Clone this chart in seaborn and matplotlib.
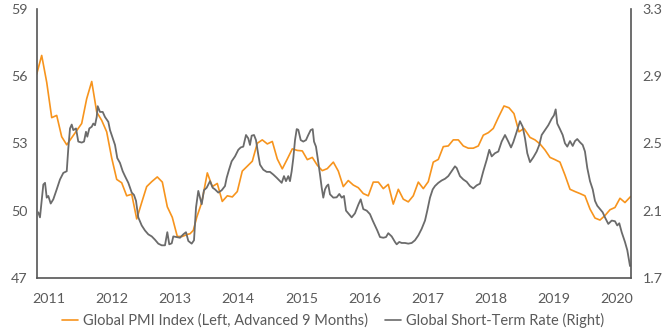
import numpy as np
import pandas as pd
import matplotlib
matplotlib.use("Agg")
import matplotlib.pyplot as plt
import seaborn as sns
from matplotlib.lines import Line2D

# ---------------- data ----------------
pmi_t = [2010.805, 2010.884, 2010.964, 2011.043, 2011.122, 2011.201, 2011.281, 2011.518,
         2011.597, 2011.677, 2011.756, 2011.835, 2011.914, 2011.994, 2012.073, 2012.152,
         2012.231, 2012.311, 2012.390, 2012.469, 2012.548, 2012.628, 2012.716, 2012.796,
         2012.875, 2012.954, 2013.033, 2013.113, 2013.192, 2013.235, 2013.287, 2013.341,
         2013.420, 2013.509, 2013.588, 2013.667, 2013.746, 2013.826, 2013.905, 2013.984,
         2014.063, 2014.143, 2014.222, 2014.301, 2014.380, 2014.460, 2014.539, 2014.618,
         2014.697, 2014.777, 2014.856, 2014.935, 2015.014, 2015.094, 2015.173, 2015.252,
         2015.331, 2015.410, 2015.506, 2015.585, 2015.664, 2015.743, 2015.822, 2015.902,
         2015.981, 2016.060, 2016.139, 2016.219, 2016.298, 2016.377, 2016.456, 2016.536,
         2016.615, 2016.694, 2016.773, 2016.853, 2016.932, 2017.011, 2017.090, 2017.170,
         2017.249, 2017.328, 2017.407, 2017.487, 2017.566, 2017.645, 2017.724, 2017.804,
         2017.883, 2017.962, 2018.041, 2018.120, 2018.211, 2018.290, 2018.369, 2018.448,
         2018.528, 2018.623, 2018.702, 2018.781, 2018.861, 2018.940, 2019.019, 2019.098,
         2019.178, 2019.257, 2019.336, 2019.415, 2019.494, 2019.574, 2019.653, 2019.732,
         2019.811, 2019.891, 2019.970, 2020.049, 2020.128, 2020.219]
pmi_v = [56.08, 56.91, 55.71, 54.14, 54.24, 53.29, 52.93, 53.88,
         54.98, 55.75, 54.39, 54.02, 53.51, 52.34, 51.39, 51.24,
         50.66, 50.73, 49.63, 50.36, 51.07, 51.29, 51.50, 51.27,
         50.17, 49.70, 48.85, 48.85, 48.94, 48.97, 49.12, 49.70,
         50.36, 51.68, 51.07, 51.21, 50.41, 50.66, 50.61, 50.85,
         51.76, 51.98, 52.20, 53.00, 53.15, 52.97, 53.08, 52.30,
         51.86, 52.30, 52.75, 52.68, 52.66, 52.27, 52.37, 52.02,
         51.78, 51.87, 52.16, 51.76, 51.07, 51.34, 51.14, 51.02,
         50.76, 50.66, 51.27, 51.27, 50.98, 51.17, 50.29, 50.95,
         50.51, 50.39, 50.66, 51.27, 50.98, 51.29, 52.16, 52.28,
         52.85, 52.88, 53.15, 53.15, 52.88, 52.78, 52.78, 52.88,
         53.36, 53.47, 53.66, 54.14, 54.66, 54.58, 54.32, 53.51,
         53.66, 53.26, 53.15, 52.97, 52.70, 52.37, 52.27, 52.16,
         51.58, 50.95, 50.85, 50.76, 50.66, 50.07, 49.67, 49.58,
         49.78, 50.04, 50.14, 50.55, 50.36, 50.63]

rate_t = [2010.830, 2010.857, 2010.910, 2010.937, 2010.964, 2010.989, 2011.027, 2011.068,
          2011.122, 2011.174, 2011.227, 2011.281, 2011.306, 2011.333, 2011.360, 2011.385,
          2011.428, 2011.464, 2011.518, 2011.555, 2011.586, 2011.607, 2011.639, 2011.677,
          2011.702, 2011.729, 2011.756, 2011.772, 2011.808, 2011.851, 2011.887, 2011.940,
          2011.967, 2012.010, 2012.046, 2012.082, 2012.125, 2012.168, 2012.204, 2012.257,
          2012.311, 2012.347, 2012.379, 2012.415, 2012.469, 2012.521, 2012.574, 2012.628,
          2012.680, 2012.732, 2012.786, 2012.838, 2012.875, 2012.906, 2012.945, 2012.970,
          2013.024, 2013.076, 2013.128, 2013.171, 2013.208, 2013.261, 2013.298, 2013.330,
          2013.366, 2013.393, 2013.420, 2013.456, 2013.499, 2013.552, 2013.594, 2013.631,
          2013.683, 2013.737, 2013.789, 2013.816, 2013.853, 2013.895, 2013.948, 2014.000,
          2014.038, 2014.079, 2014.122, 2014.158, 2014.185, 2014.212, 2014.249, 2014.280,
          2014.317, 2014.344, 2014.396, 2014.450, 2014.502, 2014.555, 2014.609, 2014.661,
          2014.688, 2014.724, 2014.756, 2014.792, 2014.819, 2014.846, 2014.872, 2014.899,
          2014.926, 2014.951, 2014.989, 2015.030, 2015.073, 2015.109, 2015.147, 2015.179,
          2015.200, 2015.231, 2015.258, 2015.295, 2015.322, 2015.347, 2015.374, 2015.401,
          2015.426, 2015.453, 2015.506, 2015.559, 2015.601, 2015.639, 2015.675, 2015.707,
          2015.743, 2015.797, 2015.849, 2015.902, 2015.940, 2015.981, 2016.035, 2016.087,
          2016.130, 2016.166, 2016.203, 2016.246, 2016.298, 2016.341, 2016.377, 2016.431,
          2016.483, 2016.510, 2016.551, 2016.590, 2016.642, 2016.694, 2016.748, 2016.800,
          2016.853, 2016.906, 2016.959, 2016.995, 2017.038, 2017.081, 2017.117, 2017.170,
          2017.223, 2017.276, 2017.328, 2017.382, 2017.434, 2017.461, 2017.513, 2017.566,
          2017.620, 2017.672, 2017.724, 2017.778, 2017.830, 2017.883, 2017.937, 2017.978,
          2018.016, 2018.068, 2018.121, 2018.174, 2018.227, 2018.279, 2018.322, 2018.358,
          2018.412, 2018.464, 2018.507, 2018.544, 2018.580, 2018.623, 2018.675, 2018.729,
          2018.770, 2018.808, 2018.861, 2018.913, 2018.967, 2019.003, 2019.030, 2019.055,
          2019.098, 2019.141, 2019.177, 2019.214, 2019.257, 2019.300, 2019.336, 2019.372,
          2019.415, 2019.458, 2019.494, 2019.531, 2019.574, 2019.617, 2019.653, 2019.689,
          2019.732, 2019.775, 2019.811, 2019.864, 2019.918, 2019.970, 2020.006, 2020.038,
          2020.076, 2020.128, 2020.165, 2020.197, 2020.208]
rate_v = [2.090, 2.060, 2.255, 2.265, 2.177, 2.187, 2.142, 2.167,
          2.226, 2.285, 2.324, 2.334, 2.470, 2.588, 2.611, 2.578,
          2.588, 2.510, 2.504, 2.510, 2.568, 2.539, 2.588, 2.598,
          2.617, 2.607, 2.656, 2.720, 2.686, 2.686, 2.656, 2.627,
          2.578, 2.529, 2.490, 2.412, 2.383, 2.334, 2.305, 2.265,
          2.207, 2.193, 2.158, 2.060, 2.012, 1.982, 1.959, 1.947,
          1.927, 1.904, 1.894, 1.894, 1.972, 1.900, 1.906, 1.947,
          1.943, 1.939, 1.959, 1.972, 1.920, 1.904, 1.924, 2.119,
          2.217, 2.177, 2.138, 2.221, 2.236, 2.275, 2.236, 2.226,
          2.207, 2.221, 2.246, 2.295, 2.343, 2.393, 2.422, 2.461,
          2.475, 2.480, 2.549, 2.529, 2.490, 2.545, 2.549, 2.519,
          2.431, 2.373, 2.343, 2.330, 2.330, 2.314, 2.295, 2.275,
          2.265, 2.305, 2.275, 2.305, 2.275, 2.334, 2.412, 2.519,
          2.584, 2.580, 2.519, 2.510, 2.519, 2.549, 2.578, 2.584,
          2.510, 2.480, 2.412, 2.314, 2.236, 2.177, 2.226, 2.246,
          2.255, 2.197, 2.177, 2.179, 2.199, 2.177, 2.187, 2.100,
          2.084, 2.060, 2.084, 2.135, 2.167, 2.109, 2.100, 2.079,
          2.041, 2.012, 1.982, 1.943, 1.939, 1.943, 1.966, 1.947,
          1.914, 1.900, 1.914, 1.908, 1.908, 1.904, 1.908, 1.924,
          1.953, 1.992, 2.041, 2.100, 2.177, 2.226, 2.246, 2.265,
          2.279, 2.289, 2.305, 2.334, 2.363, 2.353, 2.305, 2.285,
          2.271, 2.246, 2.232, 2.250, 2.260, 2.334, 2.402, 2.461,
          2.422, 2.441, 2.451, 2.510, 2.549, 2.510, 2.475, 2.506,
          2.568, 2.631, 2.598, 2.529, 2.441, 2.388, 2.416, 2.451,
          2.490, 2.549, 2.578, 2.607, 2.646, 2.666, 2.701, 2.617,
          2.584, 2.549, 2.500, 2.480, 2.513, 2.484, 2.513, 2.525,
          2.506, 2.490, 2.451, 2.353, 2.275, 2.226, 2.158, 2.129,
          2.109, 2.090, 2.060, 2.021, 2.041, 2.037, 2.012, 2.025,
          1.972, 1.914, 1.865, 1.796, 1.771]

year_ticks = [2011, 2012, 2013, 2014, 2015, 2016, 2017, 2018, 2019, 2020]
left_ticks = [47, 50, 53, 56, 59]
right_ticks = [1.7, 2.1, 2.5, 2.9, 3.3]
pmi_label = "Global PMI Index (Left, Advanced 9 Months)"
rate_label = "Global Short-Term Rate (Right)"

# ---------------- styling ----------------
sns.set_theme(style="white")
plt.rcParams["font.family"] = ["Lato", "DejaVu Sans"]

ORANGE = "#F7941D"
GRAY = "#6b6b6b"
TXT = "#5a5a5a"
SPINE = "#555555"

pmi_df = pd.DataFrame({"t": pmi_t, "v": pmi_v})
rate_df = pd.DataFrame({"t": rate_t, "v": rate_v})

fig = plt.figure(figsize=(6.70, 3.34), dpi=100)
ax = fig.add_axes([36.7 / 670, 1 - 278 / 334, (630.7 - 36.7) / 670, (278 - 8.5) / 334])
ax2 = ax.twinx()

sns.lineplot(data=pmi_df, x="t", y="v", ax=ax, color=ORANGE, linewidth=1.2, legend=False)
sns.lineplot(data=rate_df, x="t", y="v", ax=ax2, color=GRAY, linewidth=1.3, legend=False)

ax.set_xlim(2010.805, 2020.219)
ax.set_ylim(47, 59)
ax2.set_ylim(1.7, 3.3)
ax.set_xticks(year_ticks)
ax.set_xticklabels([str(y) for y in year_ticks])
ax.set_yticks(left_ticks)
ax.set_yticklabels([str(v) for v in left_ticks])
ax2.set_yticks(right_ticks)
ax2.set_yticklabels([f"{v:.1f}" for v in right_ticks])

for a in (ax, ax2):
    a.set_xlabel("")
    a.set_ylabel("")
    a.grid(False)
    a.set_facecolor("none")
    for s in a.spines.values():
        s.set_visible(False)

ax.spines["left"].set_visible(True)
ax.spines["bottom"].set_visible(True)
ax2.spines["right"].set_visible(True)
for s in (ax.spines["left"], ax.spines["bottom"], ax2.spines["right"]):
    s.set_color(SPINE)
    s.set_linewidth(1.2)

ax.tick_params(axis="x", length=0, pad=11, labelsize=10.3, labelcolor=TXT)
ax.tick_params(axis="y", length=0, pad=6.5, labelsize=10.3, labelcolor=TXT)
ax2.tick_params(axis="y", length=0, pad=8.5, labelsize=10.3, labelcolor=TXT)

handles = [Line2D([0], [0], color=ORANGE, lw=1.2), Line2D([0], [0], color=GRAY, lw=1.2)]
fig.legend(handles, [pmi_label, rate_label], loc="center", bbox_to_anchor=(0.497, 1 - 320.5 / 334),
           ncol=2, frameon=False, fontsize=10.5, labelcolor=TXT, handlelength=1.1,
           handletextpad=0.35, columnspacing=1.2, borderpad=0, borderaxespad=0)

fig.savefig("out.png", dpi=100)
